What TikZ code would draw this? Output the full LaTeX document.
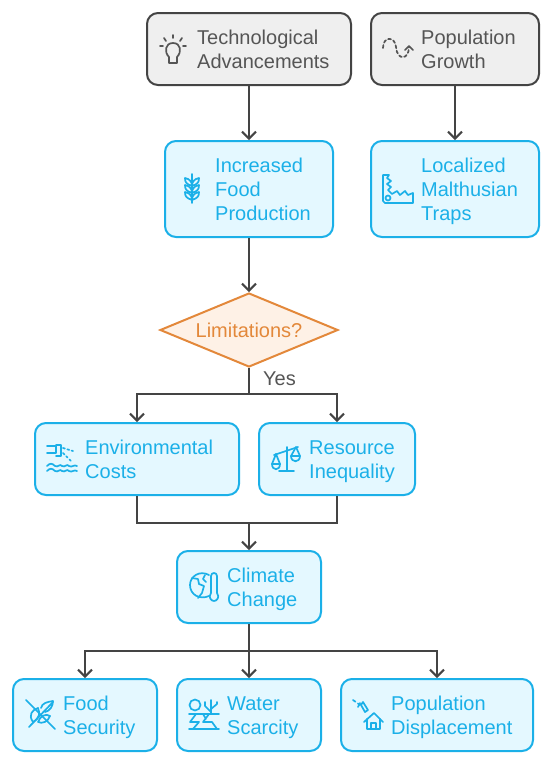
\documentclass[tikz,border=0pt]{standalone}
\usepackage{fontspec}
\setmainfont{Liberation Sans}
\usepackage{xcolor}
\usetikzlibrary{arrows.meta,shapes.geometric}
\definecolor{linegray}{RGB}{68,68,68}
\definecolor{textgray}{RGB}{85,85,85}
\definecolor{fillgray}{RGB}{239,239,239}
\definecolor{lineblue}{RGB}{27,176,232}
\definecolor{fillblue}{RGB}{228,248,255}
\definecolor{lineorange}{RGB}{227,136,58}
\definecolor{fillorange}{RGB}{254,241,230}
\tikzset{
	graybox/.style={draw=linegray,fill=fillgray,line width=2pt,rounded corners=11pt,inner sep=0pt},
	bluebox/.style={draw=lineblue,fill=fillblue,line width=2pt,rounded corners=11pt,inner sep=0pt},
	grayboxtext/.style={text=textgray},
	blueboxtext/.style={text=lineblue},
	boxlabel/.style={anchor=west,align=left,inner sep=0pt,yshift=-2.4pt,font=\fontsize{20}{24}\selectfont},
	flow/.style={draw=linegray,line width=2pt},
	flowarrow/.style={flow,-{Straight Barb[length=7pt,width=14pt,line width=2pt]}},
	grayicon/.style={draw=textgray,line width=1.7pt,line cap=round,line join=round},
	blueicon/.style={draw=lineblue,line width=1.7pt,line cap=round,line join=round}
}
\begin{document}
\begin{tikzpicture}[x=1pt,y=-1pt]
	\useasboundingbox (0,0) rectangle (552,764);
	% boxes with their labels
	\foreach \nm/\sty/\cx/\cy/\bw/\bh/\tx/\lbl in {
		tech/graybox/249/49/204/72/197/{Technological\\Advancements},
		popgrowth/graybox/455/49/168/72/421/{Population\\Growth},
		incfood/bluebox/249/189/168/96/215/{Increased\\Food\\Production},
		traps/bluebox/455/189/168/96/421/{Localized\\Malthusian\\Traps},
		envcost/bluebox/137/459/204/72/85/{Environmental\\Costs},
		inequal/bluebox/337/459/156/72/309/{Resource\\Inequality},
		climate/bluebox/249/587/144/72/227/{Climate\\Change},
		foodsec/bluebox/85/715/144/72/63/{Food\\Security},
		water/bluebox/249/715/144/72/227/{Water\\Scarcity},
		displace/bluebox/437/715/192/72/391/{Population\\Displacement}}{
		\node[\sty,minimum width=\bw pt,minimum height=\bh pt] (\nm) at (\cx,\cy) {};
		\node[boxlabel,\sty text] (\nm-label) at (\tx,\cy) {\strut\lbl\strut};
	}
	% decision
	\node[diamond,shape aspect=2.4,draw=lineorange,fill=fillorange,line width=2pt,inner sep=0pt,minimum width=178pt,minimum height=74pt,text=lineorange,font=\fontsize{20}{24}\selectfont] (limits) at (249,330) {Limitations?};
	\node[anchor=west,inner sep=0pt,text=textgray,font=\fontsize{20}{24}\selectfont] (yes) at (263,379) {Yes};
	% connectors
	\coordinate (yessplit) at (249,394);
	\coordinate (costjoin) at (249,523);
	\coordinate (climsplit) at (249,651);
	\draw[flowarrow] (tech.south) -- (incfood.north);
	\draw[flowarrow] (popgrowth.south) -- (traps.north);
	\draw[flowarrow] (incfood.south) -- (limits.north);
	\draw[flow] (limits.south) -- (yessplit);
	\draw[flowarrow] (yessplit) -| (envcost.north);
	\draw[flowarrow] (yessplit) -| (inequal.north);
	\draw[flow] (envcost.south) |- (costjoin);
	\draw[flow] (inequal.south) |- (costjoin);
	\draw[flowarrow] (costjoin) -- (climate.north);
	\draw[flow] (climate.south) -- (climsplit);
	\draw[flowarrow] (climsplit) -| (foodsec.north);
	\draw[flowarrow] (climsplit) -- (water.north);
	\draw[flowarrow] (climsplit) -| (displace.north);
	% bulb icon
	\draw[grayicon] (169,57) .. controls (164,52) and (165,43) .. (173,43) .. controls (181,43) and (182,52) .. (177,57) -- (177,63) -- (169,63) -- cycle;
	\foreach \xa/\ya/\xb/\yb in {160/46/163/46,164/38/166/41,173/35/173/38,182/38/180/41,186/46/183/46}{
		\draw[grayicon] (\xa,\ya) -- (\xb,\yb);
	}
	% dashed growth icon
	\draw[grayicon,dash pattern=on 3pt off 2.5pt] (383,48) .. controls (383,36) and (395,36) .. (396,47) .. controls (397,61) and (409,60) .. (409,47);
	\draw[grayicon] (405,50) -- (409,46) -- (413,50);
	% wheat icon
	\draw[blueicon] (192,174) -- (192,203);
	\foreach \yy in {179,186,193}{
		\draw[blueicon] (192,\yy+7) .. controls (186,\yy+5) and (185,\yy+3) .. (185,\yy-1) .. controls (190,\yy) and (192,\yy+3) .. (192,\yy+7);
		\draw[blueicon] (192,\yy+7) .. controls (198,\yy+5) and (199,\yy+3) .. (199,\yy-1) .. controls (194,\yy) and (192,\yy+3) .. (192,\yy+7);
	}
	% trap icon
	\draw[blueicon] (383,175) -- (389,175) -- (387,178) -- (391,181) -- (387,184) -- (391,187) -- (388,190) -- (392,194) -- (397,191) -- (400,195) -- (405,191) -- (408,195) -- (413,193) -- (413,203) -- (385,203) -- (383,201) -- cycle;
	\draw[blueicon] (388,198) circle (2.5pt);
	% spill icon
	\draw[blueicon] (47,446) -- (56,446) -- (56,453) -- (47,453);
	\draw[blueicon] (56,445) -- (61,445) -- (61,456) -- (56,456);
	\draw[blueicon,dash pattern=on 2pt off 2.5pt] (63,448) -- (73,451);
	\draw[blueicon,dash pattern=on 2pt off 2.5pt] (63,453) -- (71,461);
	\foreach \yy in {466,471}{
		\draw[blueicon] (47,\yy) .. controls (50,\yy-3) and (52,\yy-3) .. (55,\yy) .. controls (58,\yy+2) and (60,\yy-3) .. (62,\yy) .. controls (65,\yy+2) and (67,\yy-3) .. (69,\yy) .. controls (72,\yy+2) and (74,\yy-2) .. (77,\yy);
	}
	% scales icon
	\draw[blueicon] (287,447) -- (287,471) (279,471) -- (294,471) (274,455) -- (298,447);
	\draw[blueicon] (272,464) -- (276,454) -- (280,464) (291,456) -- (296,447) -- (300,456);
	\draw[blueicon] (272,464) .. controls (272,471) and (280,471) .. (280,464) -- cycle;
	\draw[blueicon] (291,456) .. controls (291,463) and (300,463) .. (300,456) -- cycle;
	% globe and thermometer icon
	\draw[blueicon] (209,575) .. controls (200,570) and (190,576) .. (190,585) .. controls (190,595) and (200,600) .. (209,596);
	\draw[blueicon] (192,578) -- (198,579) -- (199,584) -- (204,586) -- (202,593) -- (198,598);
	\draw[blueicon] (205,575) -- (203,579) -- (206,582);
	\draw[blueicon] (211,593) -- (211,576) .. controls (211,572) and (217,572) .. (217,576) -- (217,593) .. controls (220,597) and (217,601) .. (214,601) .. controls (211,601) and (208,597) .. (211,593);
	% crossed leaf icon
	\draw[blueicon] (26,700) -- (55,729) (29,727) -- (53,702);
	\draw[blueicon] (33,722) .. controls (28,715) and (32,710) .. (38,708) .. controls (40,713) and (40,718) .. (33,722);
	\draw[blueicon] (38,722) .. controls (42,724) and (48,722) .. (50,716) .. controls (46,713) and (40,716) .. (38,722);
	\draw[blueicon] (41,708) .. controls (42,703) and (47,702) .. (53,701) .. controls (53,706) and (50,711) .. (45,712);
	% dry ground icon
	\draw[blueicon] (195,705) circle (5.5pt);
	\draw[blueicon] (211,714) -- (211,700) (211,712) -- (205,706) -- (205,702) (211,709) -- (217,704) -- (217,702);
	\draw[blueicon] (189,714) -- (219,714) (189,729) -- (219,729);
	\draw[blueicon] (196,714) -- (190,722) -- (199,722) -- (193,729) (209,714) -- (203,722) -- (212,722) -- (217,729) (203,714) -- (206,719);
	% house and route icon
	\draw[blueicon] (364,722) -- (374,713) -- (383,722);
	\draw[blueicon] (367,719) -- (367,729) -- (380,729) -- (380,719);
	\draw[blueicon] (371,729) -- (371,723) -- (376,723) -- (376,729);
	\draw[blueicon,dash pattern=on 3pt off 3pt] (353,700) -- (360,705);
	\draw[blueicon] (360,703) -- (358,707) (363,702) -- (368,710) -- (365,712) -- (361,705) -- cycle;
\end{tikzpicture}
\end{document}
